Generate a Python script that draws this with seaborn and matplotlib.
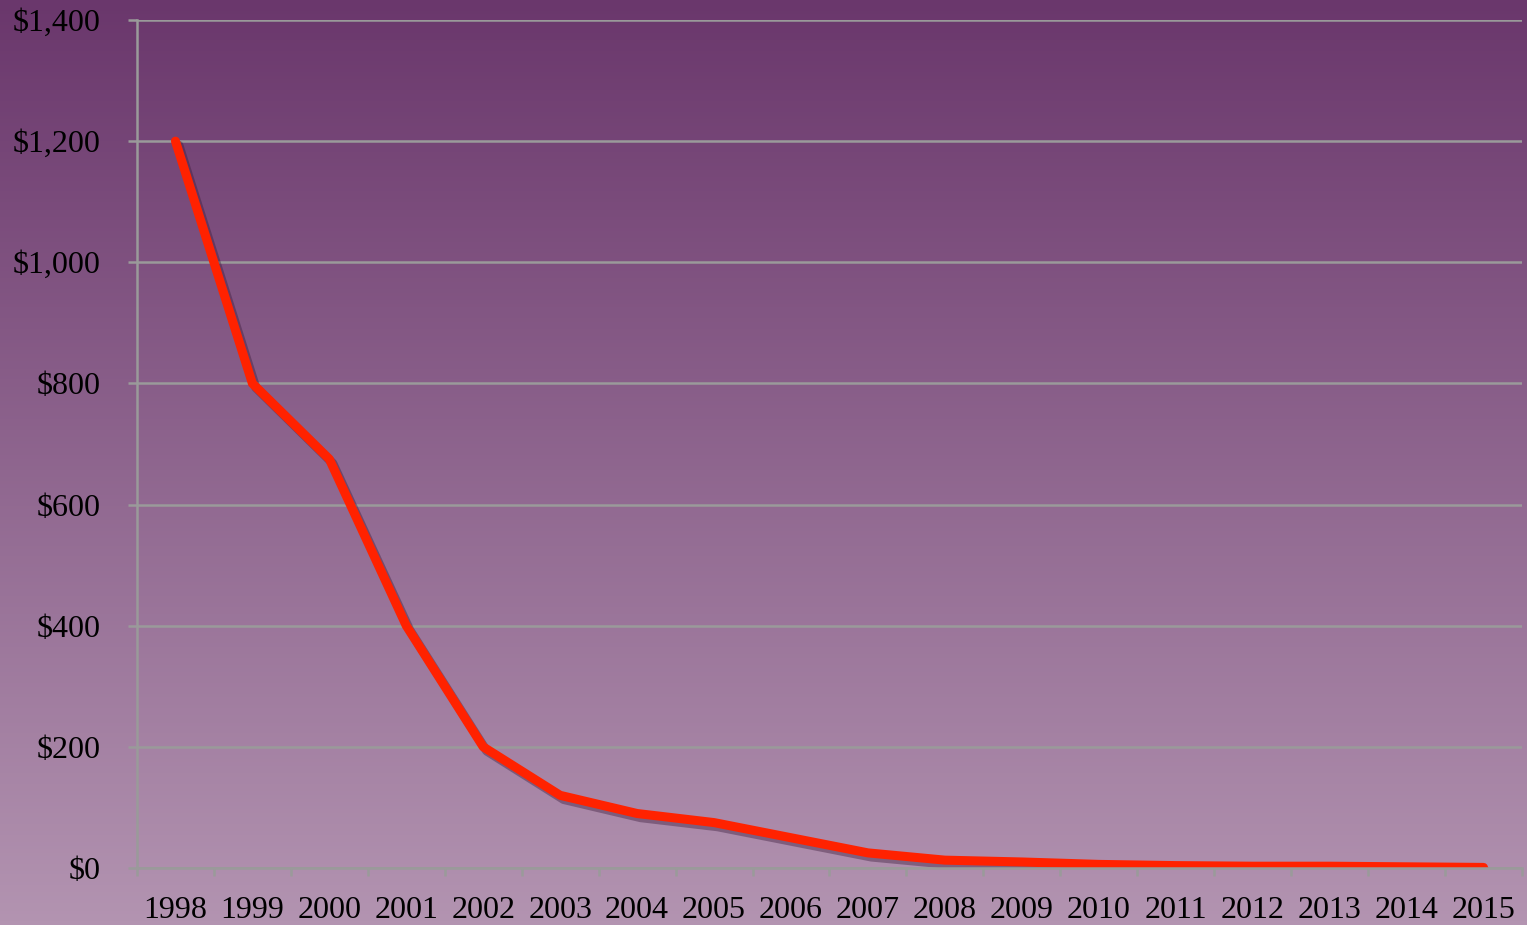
import numpy as np
import pandas as pd
import seaborn as sns
import matplotlib.pyplot as plt
import matplotlib.patheffects as pe
from matplotlib.colors import LinearSegmentedColormap

years = ["1998", "1999", "2000", "2001", "2002", "2003", "2004", "2005", "2006",
         "2007", "2008", "2009", "2010", "2011", "2012", "2013", "2014", "2015"]
price = [1200, 800, 675, 400, 200, 120, 90, 75, 50, 25, 13, 10, 6, 4, 3, 3, 2, 1]
y_ticks = [0, 200, 400, 600, 800, 1000, 1200, 1400]
y_labels = ["$0", "$200", "$400", "$600", "$800", "$1,000", "$1,200", "$1,400"]

sns.set_theme(style="white")
plt.rcParams["font.family"] = ["Liberation Serif", "DejaVu Serif"]

fig = plt.figure(figsize=(15.27, 9.25), dpi=100)

# gradient background over the whole figure
bg = fig.add_axes([0, 0, 1, 1], zorder=-10)
grad = np.linspace(0, 1, 256).reshape(-1, 1)
cmap = LinearSegmentedColormap.from_list("bg", ["#6a376c", "#b394b1"])
bg.imshow(grad, aspect="auto", cmap=cmap, extent=[0, 1, 0, 1], origin="upper")
bg.axis("off")

ax = fig.add_axes([0.0897, 0.0616, 0.907, 0.9168])
ax.patch.set_alpha(0)

df = pd.DataFrame({"pos": np.arange(len(years)), "price": price})
sns.lineplot(data=df, x="pos", y="price", ax=ax, color="#ff2200", linewidth=6.5,
             solid_capstyle="round", solid_joinstyle="round",
             path_effects=[pe.SimpleLineShadow(offset=(2.5, -3), shadow_color="#3a1a3a", alpha=0.4),
                           pe.Normal()])

ax.set_xlim(-0.5, len(years) - 0.5)
ax.set_ylim(0, 1400)
ax.set_yticks(y_ticks)
ax.set_yticklabels(y_labels)
ax.set_xticks(np.arange(len(years) + 1) - 0.5)
ax.set_xticklabels([])
ax.set_xticks(np.arange(len(years)), minor=True)
ax.set_xticklabels(years, minor=True)

ax.grid(axis="y", color="#9a9a9a", linewidth=1.8)
ax.set_axisbelow(True)
for s in ["top", "right"]:
    ax.spines[s].set_visible(False)
for s in ["left", "bottom"]:
    ax.spines[s].set_color("#9a9a9a")
    ax.spines[s].set_linewidth(1.8)

ax.tick_params(axis="y", which="major", left=True, length=6.5, width=1.8, color="#9a9a9a",
               pad=20, labelsize=23, labelcolor="black")
ax.tick_params(axis="x", which="major", bottom=True, length=6, width=1.8, color="#9a9a9a")
ax.tick_params(axis="x", which="minor", bottom=True, length=0, pad=20, labelsize=23,
               labelcolor="black")
ax.set_xlabel("")
ax.set_ylabel("")

fig.savefig("out.png", dpi=100)
